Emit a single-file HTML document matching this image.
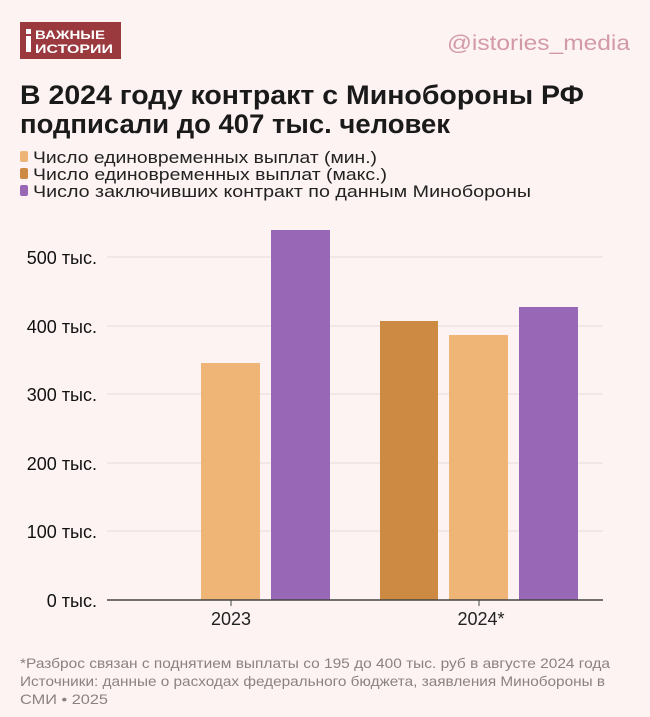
<!DOCTYPE html>
<html><head><meta charset="utf-8"><style>
body{margin:0;background:#fdf3f3;}
svg{display:block;font-family:"Liberation Sans","DejaVu Sans",sans-serif;}
</style></head><body>
<svg width="650" height="717" viewBox="0 0 650 717">
<rect width="650" height="717" fill="#fdf3f3"/>
<rect x="20" y="22" width="101" height="37" fill="#9a3a3f"/>
<rect x="26" y="29" width="5" height="5" fill="#fff"/>
<rect x="26" y="36" width="5" height="16" fill="#fff"/>
<text x="35" y="39" font-size="12" font-weight="bold" fill="#fff" textLength="70" lengthAdjust="spacingAndGlyphs">ВАЖНЫЕ</text>
<text x="35" y="53" font-size="12" font-weight="bold" fill="#fff" textLength="78" lengthAdjust="spacingAndGlyphs">ИСТОРИИ</text>
<text x="630" y="50" font-size="21" fill="#d29aa6" text-anchor="end" textLength="183" lengthAdjust="spacingAndGlyphs">@istories_media</text>
<text x="20" y="104" font-size="27" font-weight="bold" fill="#1a1a1a" textLength="564" lengthAdjust="spacingAndGlyphs">В 2024 году контракт с Минобороны РФ</text>
<text x="20" y="133" font-size="27" font-weight="bold" fill="#1a1a1a" textLength="430" lengthAdjust="spacingAndGlyphs">подписали до 407 тыс. человек</text>
<rect x="20" y="151" width="8" height="11" rx="2" fill="#eeb577"/>
<rect x="20" y="168" width="8" height="11" rx="2" fill="#cd8a42"/>
<rect x="20" y="185" width="8" height="11" rx="2" fill="#9868b6"/>
<g font-size="17" fill="#222">
<text x="33" y="163" textLength="344" lengthAdjust="spacingAndGlyphs">Число единовременных выплат (мин.)</text>
<text x="33" y="180" textLength="354" lengthAdjust="spacingAndGlyphs">Число единовременных выплат (макс.)</text>
<text x="33" y="197" textLength="498" lengthAdjust="spacingAndGlyphs">Число заключивших контракт по данным Минобороны</text>
</g>
<g stroke="#eee3e3" stroke-width="1.5">
<line x1="107" x2="603" y1="257" y2="257"/><line x1="107" x2="603" y1="326" y2="326"/>
<line x1="107" x2="603" y1="394" y2="394"/><line x1="107" x2="603" y1="463" y2="463"/>
<line x1="107" x2="603" y1="531" y2="531"/>
</g>
<g font-size="18" fill="#111" text-anchor="end">
<text x="97" y="264">500 тыс.</text><text x="97" y="333">400 тыс.</text>
<text x="97" y="401">300 тыс.</text><text x="97" y="470">200 тыс.</text>
<text x="97" y="538">100 тыс.</text><text x="97" y="607">0 тыс.</text>
</g>
<rect x="201" y="363" width="59" height="237" fill="#eeb577"/>
<rect x="271" y="230" width="59" height="370" fill="#9868b6"/>
<rect x="380" y="321" width="58" height="279" fill="#cd8a42"/>
<rect x="449" y="335" width="59" height="265" fill="#eeb577"/>
<rect x="519" y="307" width="59" height="293" fill="#9868b6"/>
<line x1="107" x2="603" y1="600" y2="600" stroke="#444" stroke-width="1.5"/>
<line x1="231" x2="231" y1="600" y2="606" stroke="#444"/>
<line x1="479" x2="479" y1="600" y2="606" stroke="#444"/>
<g font-size="18" fill="#222" text-anchor="middle">
<text x="231" y="625">2023</text><text x="481" y="625">2024*</text>
</g>
<g font-size="14" fill="#8a8282">
<text x="20" y="668" textLength="590" lengthAdjust="spacingAndGlyphs">*Разброс связан с поднятием выплаты со 195 до 400 тыс. руб в августе 2024 года</text>
<text x="20" y="686" textLength="585" lengthAdjust="spacingAndGlyphs">Источники: данные о расходах федерального бюджета, заявления Минобороны в</text>
<text x="20" y="704" textLength="88" lengthAdjust="spacingAndGlyphs">СМИ • 2025</text>
</g>
</svg>
</body></html>
